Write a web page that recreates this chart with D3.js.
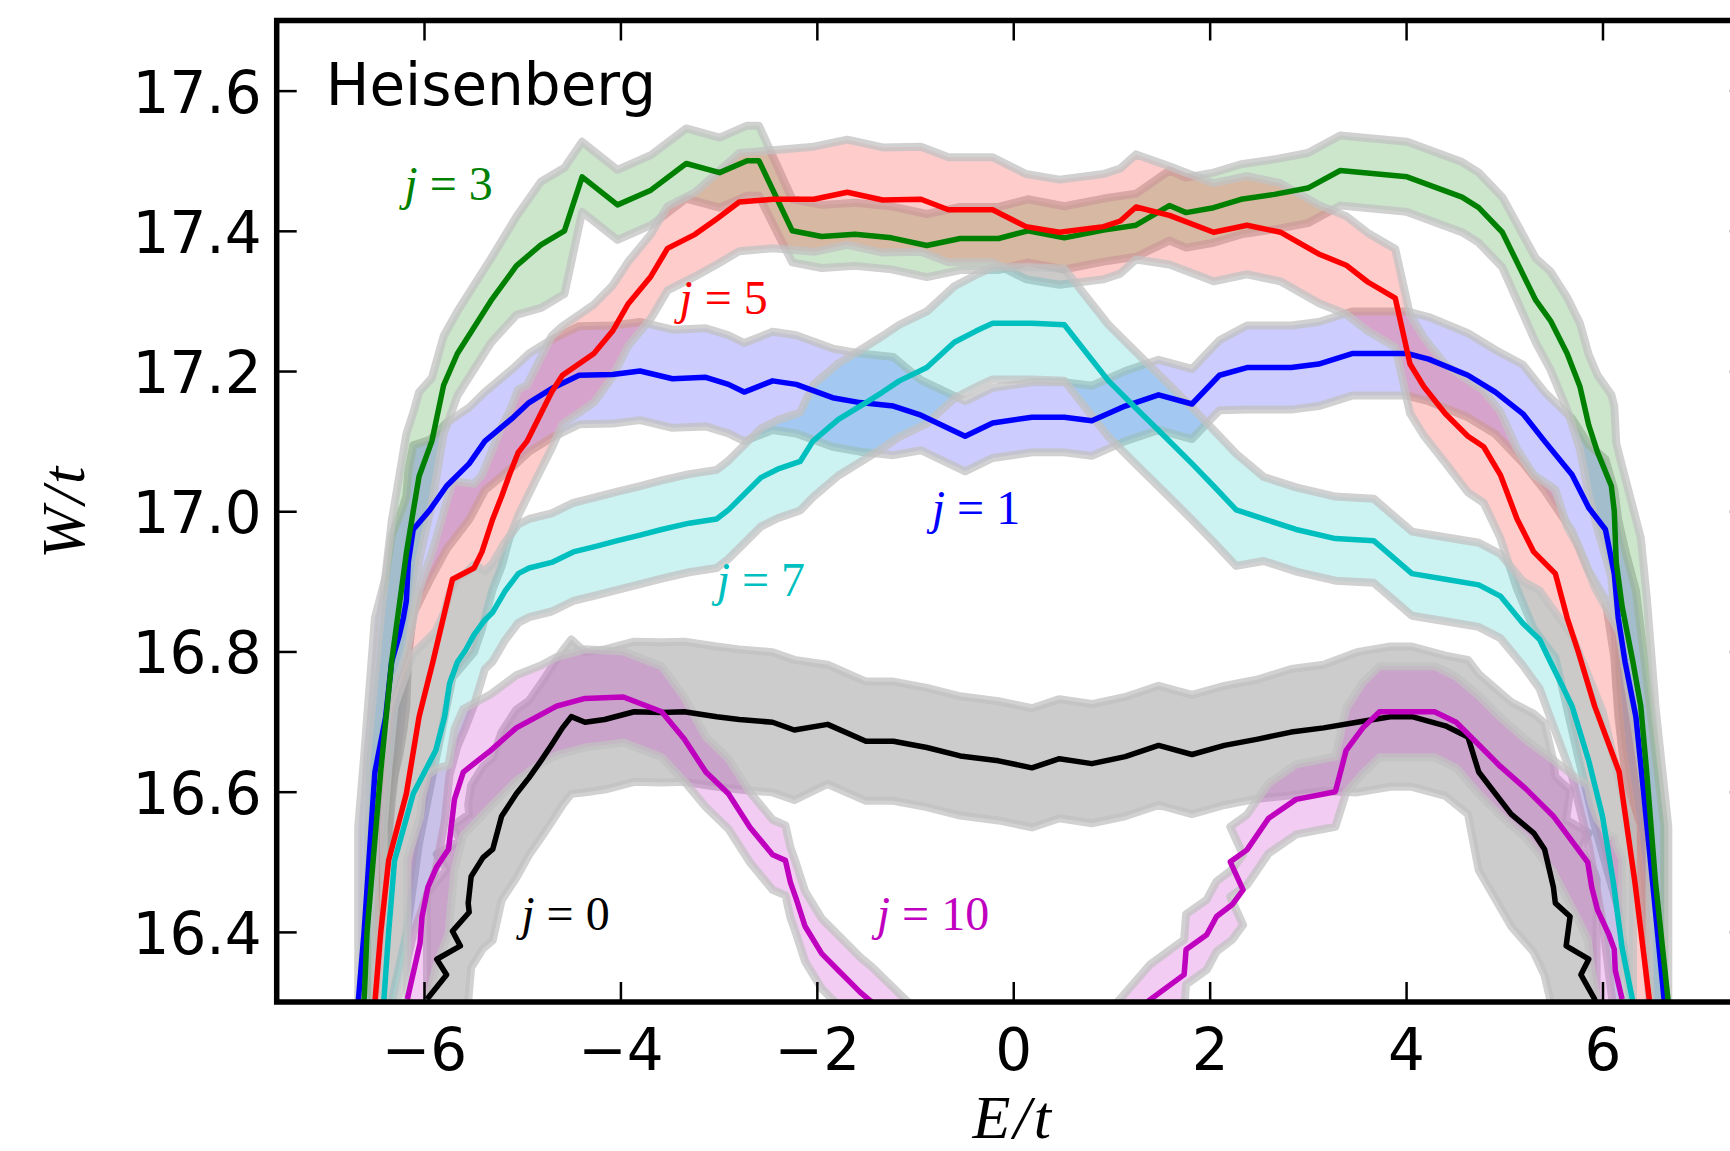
<!DOCTYPE html>
<html><head><meta charset="utf-8">
<script src="https://cdn.jsdelivr.net/npm/d3@7"></script>
<style>body{margin:0;background:#fff}</style>
</head><body>
<svg id="chart" width="1730" height="1151"></svg>
<script>
// ---------- data (E/t, W/t, band half-width) ----------
const xDomain = [-7.5, 7.5];
const yDomain = [16.3, 17.7];
const xTicks = [-6, -4, -2, 0, 2, 4, 6];
const yTicks = [16.4, 16.6, 16.8, 17.0, 17.2, 17.4, 17.6];

// j = 0 (black)
const E_j0 = [-5.97,-5.77,-5.87,-5.63,-5.71,-5.54,-5.55,-5.52,-5.40,-5.30,-5.21,-5.06,-4.93,-4.81,-4.70,-4.59,-4.50,-4.36,-4.16,-3.86,-3.58,-3.35,-3.02,-2.79,-2.45,-2.23,-1.89,-1.50,-1.22,-0.88,-0.54,-0.15,0.19,0.47,0.80,1.14,1.48,1.82,2.15,2.49,2.83,3.16,3.50,3.84,4.06,4.40,4.63,4.74,4.91,5.07,5.30,5.41,5.50,5.52,5.67,5.63,5.86,5.78,5.92,5.94];
const W_j0 = [16.304,16.339,16.361,16.380,16.401,16.428,16.441,16.479,16.506,16.518,16.565,16.597,16.620,16.644,16.667,16.691,16.707,16.699,16.703,16.714,16.713,16.714,16.707,16.703,16.699,16.688,16.696,16.672,16.672,16.663,16.651,16.644,16.634,16.647,16.640,16.650,16.666,16.653,16.666,16.675,16.685,16.691,16.699,16.707,16.707,16.694,16.678,16.628,16.597,16.568,16.541,16.518,16.464,16.441,16.422,16.380,16.361,16.339,16.304,16.295];
const err_j0 = [0.15,0.15,0.15,0.15,0.15,0.14,0.14,0.13,0.13,0.13,0.12,0.12,0.11,0.11,0.11,0.11,0.11,0.1,0.1,0.1,0.1,0.1,0.1,0.1,0.1,0.1,0.085,0.085,0.085,0.085,0.085,0.085,0.085,0.085,0.085,0.085,0.085,0.085,0.085,0.085,0.09,0.09,0.1,0.1,0.1,0.1,0.11,0.14,0.15,0.16,0.17,0.18,0.18,0.18,0.18,0.18,0.18,0.18,0.18,0.18];

// j = 1 (blue)
const E_j1 = [-6.67,-6.61,-6.50,-6.39,-6.33,-6.25,-6.21,-6.18,-6.16,-6.11,-5.94,-5.77,-5.54,-5.38,-5.09,-4.93,-4.70,-4.42,-4.08,-3.80,-3.47,-3.13,-2.90,-2.74,-2.45,-2.21,-1.84,-1.56,-1.22,-0.94,-0.49,-0.21,0.19,0.52,0.80,1.14,1.48,1.82,2.10,2.38,2.83,3.11,3.45,4.01,4.23,4.63,4.91,5.19,5.41,5.69,5.86,6.03,6.12,6.16,6.23,6.34,6.42,6.51,6.63];
const W_j1 = [16.30,16.40,16.628,16.707,16.785,16.824,16.848,16.872,16.927,16.974,17.002,17.036,17.068,17.10,17.134,17.155,17.175,17.194,17.195,17.20,17.189,17.191,17.181,17.170,17.186,17.181,17.162,17.155,17.150,17.137,17.107,17.126,17.134,17.134,17.129,17.150,17.166,17.153,17.194,17.205,17.205,17.210,17.225,17.225,17.217,17.194,17.170,17.139,17.10,17.052,17.005,16.974,16.911,16.848,16.785,16.707,16.597,16.471,16.30];
const err_j1 = [0.25,0.25,0.22,0.2,0.18,0.17,0.16,0.15,0.13,0.12,0.1,0.09,0.08,0.07,0.07,0.07,0.07,0.07,0.07,0.07,0.07,0.07,0.07,0.07,0.07,0.07,0.07,0.07,0.07,0.05,0.05,0.05,0.05,0.05,0.05,0.05,0.05,0.05,0.05,0.06,0.06,0.06,0.06,0.06,0.06,0.06,0.06,0.07,0.07,0.08,0.09,0.1,0.12,0.14,0.16,0.18,0.2,0.22,0.25];

// j = 3 (green)
const E_j3 = [-6.61,-6.58,-6.44,-6.33,-6.18,-6.11,-6.05,-5.92,-5.80,-5.66,-5.32,-5.06,-4.81,-4.57,-4.39,-4.03,-3.69,-3.33,-2.99,-2.71,-2.59,-2.25,-1.95,-1.61,-1.24,-0.88,-0.54,-0.15,0.15,0.52,0.92,1.25,1.59,1.76,2.04,2.32,2.66,3.00,3.33,4.01,4.57,4.74,4.98,5.32,5.47,5.64,5.77,5.86,5.95,6.09,6.12,6.14,6.20,6.31,6.39,6.45,6.54,6.67];
const W_j3 = [16.30,16.40,16.63,16.785,16.94,17.00,17.05,17.10,17.18,17.225,17.30,17.35,17.38,17.40,17.477,17.437,17.458,17.496,17.483,17.50,17.50,17.40,17.392,17.395,17.39,17.379,17.389,17.389,17.40,17.39,17.401,17.408,17.436,17.426,17.433,17.445,17.452,17.461,17.486,17.477,17.448,17.433,17.398,17.301,17.272,17.225,17.178,17.123,17.084,17.036,17.00,16.927,16.864,16.785,16.722,16.628,16.471,16.30];
const err_j3 = [0.25,0.25,0.22,0.2,0.17,0.14,0.12,0.09,0.07,0.06,0.06,0.07,0.09,0.09,0.05,0.05,0.05,0.05,0.05,0.05,0.05,0.045,0.045,0.045,0.045,0.045,0.045,0.045,0.045,0.045,0.045,0.045,0.05,0.05,0.05,0.05,0.05,0.05,0.05,0.05,0.05,0.05,0.05,0.06,0.07,0.08,0.09,0.1,0.11,0.13,0.15,0.17,0.2,0.22,0.24,0.25,0.25,0.25];

// j = 5 (red)
const E_j5 = [-6.50,-6.44,-6.36,-6.18,-6.05,-5.91,-5.71,-5.49,-5.41,-5.30,-5.21,-5.13,-5.04,-4.95,-4.84,-4.70,-4.59,-4.27,-4.08,-3.92,-3.69,-3.52,-3.24,-3.02,-2.79,-2.45,-2.03,-1.69,-1.33,-0.94,-0.66,-0.21,0.13,0.47,0.92,1.09,1.25,1.59,2.04,2.38,2.72,3.11,3.39,3.61,3.89,4.04,4.18,4.40,4.63,4.79,4.96,5.13,5.30,5.52,5.64,5.75,5.92,6.17,6.33,6.48];
const W_j5 = [16.30,16.40,16.502,16.597,16.707,16.785,16.903,16.919,16.942,16.989,17.021,17.052,17.084,17.10,17.131,17.170,17.194,17.225,17.257,17.296,17.335,17.375,17.395,17.417,17.441,17.445,17.445,17.455,17.444,17.445,17.430,17.430,17.406,17.398,17.406,17.414,17.434,17.422,17.398,17.408,17.398,17.367,17.351,17.327,17.304,17.210,17.178,17.139,17.107,17.092,17.052,16.989,16.942,16.911,16.848,16.801,16.722,16.628,16.471,16.30];
const err_j5 = [0.25,0.24,0.22,0.2,0.18,0.16,0.14,0.12,0.11,0.1,0.1,0.09,0.09,0.08,0.08,0.08,0.07,0.07,0.065,0.06,0.06,0.06,0.06,0.065,0.07,0.07,0.075,0.075,0.075,0.075,0.075,0.075,0.075,0.075,0.075,0.075,0.075,0.07,0.07,0.07,0.07,0.07,0.07,0.07,0.07,0.07,0.07,0.07,0.08,0.08,0.09,0.1,0.11,0.12,0.13,0.15,0.17,0.2,0.22,0.25];

// j = 7 (cyan)
const E_j7 = [-6.41,-6.36,-6.30,-6.11,-5.88,-5.79,-5.74,-5.66,-5.58,-5.49,-5.38,-5.30,-5.17,-5.04,-4.93,-4.70,-4.48,-4.25,-4.03,-3.80,-3.58,-3.30,-3.02,-2.90,-2.57,-2.40,-2.17,-2.04,-1.78,-1.50,-1.33,-1.16,-0.88,-0.60,-0.38,-0.21,0.19,0.52,0.75,0.97,1.25,1.54,1.82,2.04,2.27,2.55,2.88,3.28,3.67,4.06,4.40,4.74,4.96,5.19,5.36,5.47,5.58,5.69,5.86,6.00,6.11,6.20,6.31];
const W_j7 = [16.30,16.40,16.502,16.597,16.659,16.707,16.754,16.785,16.801,16.824,16.845,16.856,16.887,16.911,16.919,16.927,16.942,16.950,16.958,16.966,16.974,16.983,16.989,17.002,17.048,17.060,17.071,17.10,17.131,17.155,17.170,17.186,17.205,17.241,17.257,17.268,17.268,17.266,17.225,17.186,17.147,17.107,17.068,17.036,17.002,16.989,16.974,16.961,16.958,16.911,16.903,16.895,16.879,16.840,16.817,16.785,16.754,16.722,16.644,16.565,16.471,16.377,16.30];
const err_j7 = [0.25,0.24,0.22,0.2,0.17,0.15,0.13,0.12,0.11,0.1,0.07,0.07,0.07,0.07,0.07,0.07,0.07,0.07,0.07,0.07,0.07,0.07,0.07,0.07,0.07,0.07,0.07,0.08,0.08,0.08,0.08,0.08,0.08,0.08,0.08,0.08,0.08,0.08,0.08,0.08,0.08,0.08,0.08,0.08,0.08,0.06,0.06,0.06,0.06,0.06,0.06,0.06,0.06,0.06,0.07,0.08,0.09,0.1,0.12,0.15,0.18,0.22,0.25];

// j = 10 (magenta) – the middle dips below the visible range
const E_j10 = [-6.17,-6.04,-6.02,-5.96,-5.87,-5.75,-5.69,-5.60,-5.32,-5.06,-4.81,-4.65,-4.36,-3.97,-3.58,-3.35,-3.13,-2.90,-2.68,-2.45,-2.32,-2.27,-2.21,-2.12,-1.95,-1.78,-1.56,-1.44,-1.0,0.0,1.0,1.39,1.74,1.76,1.97,2.07,2.23,2.34,2.21,2.38,2.60,2.88,3.28,3.39,3.56,3.73,4.29,4.51,4.74,4.96,5.22,5.50,5.75,5.85,5.89,5.95,6.06,6.12,6.13,6.20];
const W_j10 = [16.304,16.384,16.422,16.464,16.493,16.518,16.589,16.628,16.659,16.691,16.710,16.722,16.733,16.735,16.714,16.675,16.628,16.597,16.549,16.510,16.502,16.471,16.447,16.408,16.369,16.345,16.314,16.30,16.24,16.20,16.24,16.303,16.339,16.375,16.396,16.422,16.439,16.460,16.500,16.517,16.562,16.589,16.600,16.659,16.691,16.714,16.714,16.699,16.667,16.636,16.604,16.565,16.518,16.499,16.464,16.431,16.398,16.375,16.345,16.304];
const err_j10 = [0.2,0.18,0.17,0.16,0.14,0.12,0.1,0.09,0.08,0.075,0.07,0.07,0.07,0.065,0.065,0.06,0.05,0.05,0.05,0.05,0.05,0.05,0.05,0.05,0.05,0.05,0.05,0.05,0.05,0.05,0.05,0.05,0.05,0.05,0.05,0.05,0.05,0.05,0.05,0.05,0.05,0.05,0.05,0.06,0.065,0.065,0.065,0.065,0.07,0.07,0.07,0.08,0.1,0.11,0.12,0.13,0.14,0.16,0.18,0.2];

const seriesNames = ["j0", "j1", "j3", "j5", "j7", "j10"];
const seriesLabels = ["0", "1", "3", "5", "7", "10"];
const seriesColors = ["#000000", "#0000ff", "#008000", "#ff0000", "#00bfbf", "#bf00bf"];
const seriesE = [E_j0, E_j1, E_j3, E_j5, E_j7, E_j10];
const seriesW = [W_j0, W_j1, W_j3, W_j5, W_j7, W_j10];
const seriesErr = [err_j0, err_j1, err_j3, err_j5, err_j7, err_j10];

// label anchors in data coordinates
const labelE = [-5.01, -0.83, -6.20, -3.40, -3.02, -1.39];
const labelW = [16.403, 16.982, 17.444, 17.281, 16.879, 16.403];

// ---------- drawing ----------
const svg = d3.select("#chart");
const L = 276.7, R = 1749.8, T = 20.5, B = 1002;
const x = d3.scaleLinear().domain(xDomain).range([L, R]);
const y = d3.scaleLinear().domain(yDomain).range([B, T]);

svg.append("rect").attr("width", 1730).attr("height", 1151).attr("fill", "#fff");

svg.append("defs").append("clipPath").attr("id", "plotclip")
  .append("rect").attr("x", L).attr("y", T).attr("width", R - L).attr("height", B - T);

const plot = svg.append("g").attr("clip-path", "url(#plotclip)");

const series = seriesNames.map((n, k) => ({
  name: n, color: seriesColors[k],
  pts: seriesE[k].map((e, i) => ({E: e, W: seriesW[k][i], err: seriesErr[k][i]}))
}));

const area = d3.area().x(d => x(d.E)).y0(d => y(d.W - d.err)).y1(d => y(d.W + d.err));
const line = d3.line().x(d => x(d.E)).y(d => y(d.W));

series.forEach(s => {
  plot.append("path").attr("d", area(s.pts))
    .attr("fill", s.color).attr("fill-opacity", 0.2)
    .attr("stroke", "#c2c2c2").attr("stroke-opacity", 0.75)
    .attr("stroke-width", 8).attr("stroke-linejoin", "round");
});
series.forEach(s => {
  plot.append("path").attr("d", line(s.pts))
    .attr("fill", "none").attr("stroke", s.color)
    .attr("stroke-width", 5.5).attr("stroke-linejoin", "round");
});

// annotations
series.forEach((s, k) => {
  const t = svg.append("text").attr("x", x(labelE[k])).attr("y", y(labelW[k]))
    .attr("font-family", "Liberation Serif").attr("font-size", 48).attr("fill", s.color);
  t.append("tspan").attr("font-style", "italic").text("j");
  t.append("tspan").text(" = " + seriesLabels[k]);
});

svg.append("text").attr("x", x(-7.0)).attr("y", y(17.579))
  .attr("font-family", "DejaVu Sans").attr("font-size", 58).attr("fill", "#000").text("Heisenberg");

// axes
function styleTicks(g) {
  g.select(".domain").remove();
  g.selectAll(".tick line").attr("stroke", "#000").attr("stroke-width", 2.5);
}
const gx = svg.append("g").attr("transform", `translate(0,${B})`)
  .call(d3.axisBottom(x).tickValues(xTicks).tickSize(-20).tickFormat(d3.format("d")));
styleTicks(gx);
gx.selectAll(".tick text").attr("y", 68).attr("dy", null)
  .attr("font-family", "DejaVu Sans").attr("font-size", 58).attr("fill", "#000");

const gxt = svg.append("g").attr("transform", `translate(0,${T})`)
  .call(d3.axisTop(x).tickValues(xTicks).tickSize(-20).tickFormat(""));
styleTicks(gxt);

const gy = svg.append("g").attr("transform", `translate(${L},0)`)
  .call(d3.axisLeft(y).tickValues(yTicks).tickSize(-20).tickFormat(d3.format(".1f")));
styleTicks(gy);
gy.selectAll(".tick text").attr("x", -15).attr("dy", "0.37em")
  .attr("font-family", "DejaVu Sans").attr("font-size", 58).attr("fill", "#000");

const gyr = svg.append("g").attr("transform", `translate(${R},0)`)
  .call(d3.axisRight(y).tickValues(yTicks).tickSize(-20).tickFormat(""));
styleTicks(gyr);

// spines
svg.append("rect").attr("x", L).attr("y", T).attr("width", R - L).attr("height", B - T)
  .attr("fill", "none").attr("stroke", "#000").attr("stroke-width", 5.5);

// axis labels
svg.append("text").attr("x", (L + R) / 2).attr("y", 1138).attr("text-anchor", "middle")
  .attr("font-family", "Liberation Serif").attr("font-style", "italic").attr("font-size", 62)
  .attr("letter-spacing", 3).text("E/t");
svg.append("text").attr("transform", `translate(84,${(T + B) / 2}) rotate(-90)`).attr("text-anchor", "middle")
  .attr("font-family", "Liberation Serif").attr("font-style", "italic").attr("font-size", 62)
  .attr("letter-spacing", 3).text("W/t");
</script>
</body></html>
